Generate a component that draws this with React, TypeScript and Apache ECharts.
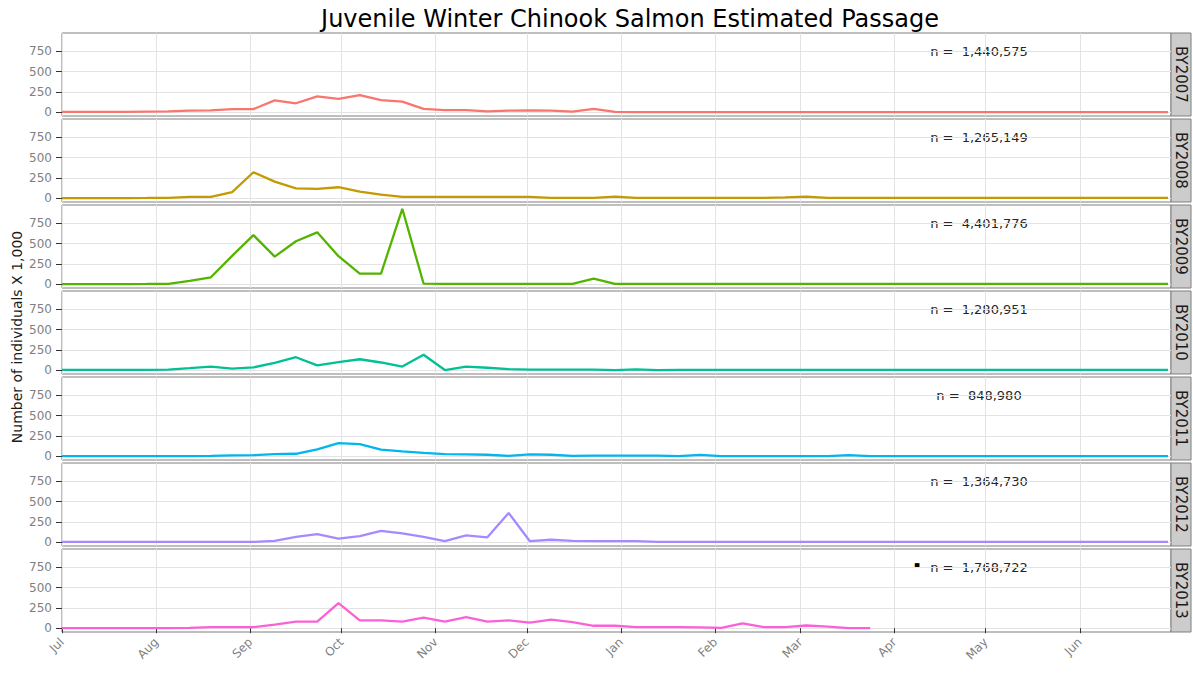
import React, { useEffect, useRef } from "react";
import * as echarts from "echarts";

// ---------- data ----------
const monthLabels = ["Jul", "Aug", "Sep", "Oct", "Nov", "Dec", "Jan", "Feb", "Mar", "Apr", "May", "Jun"];
const monthStartDays = [0, 31, 62, 92, 123, 153, 184, 215, 243, 274, 304, 335];
const yTicks = [0, 250, 500, 750];

// sampling dates: days since Jul 1 (weekly)
const weekDays = [
  0, 7, 14, 21, 28, 35, 42, 49, 56, 63, 70, 77, 84, 91, 98, 105, 112, 119, 126, 133,
  140, 147, 154, 161, 168, 175, 182, 189, 196, 203, 210, 217, 224, 231, 238, 245, 252,
  259, 266, 273, 280, 287, 294, 301, 308, 315, 322, 329, 336, 343, 350, 357, 364,
];

const broodYears = ["BY2007", "BY2008", "BY2009", "BY2010", "BY2011", "BY2012", "BY2013"];
const totals = ["1,440,575", "1,265,149", "4,401,776", "1,280,951", "848,980", "1,364,730", "1,768,722"];

// weekly passage, thousands of fish
const by2007 = [
  5, 5, 5, 5, 8, 10, 20, 22, 38, 38, 145, 110, 195, 165, 210, 150, 130, 40, 25, 25, 10, 20, 22, 20, 8, 40, 5,
  2, 2, 2, 2, 2, 2, 2, 2, 2, 2, 2, 2, 2, 2, 2, 2, 2, 2, 2, 2, 2, 2, 2, 2, 2, 2,
];
const by2008 = [
  2, 2, 2, 2, 3, 5, 15, 15, 75, 320, 205, 120, 115, 135, 80, 45, 15, 15, 15, 15, 15, 15, 15, 5, 5, 5, 20,
  5, 5, 5, 5, 5, 5, 5, 10, 20, 5, 3, 3, 3, 3, 3, 3, 3, 3, 3, 3, 3, 3, 3, 3, 3, 3,
];
const by2009 = [
  2, 2, 2, 2, 3, 5, 40, 85, 350, 605, 340, 530, 640, 345, 130, 130, 930, 8, 3, 3, 3, 3, 3, 3, 3, 70, 3,
  3, 3, 3, 3, 3, 3, 3, 3, 3, 3, 3, 3, 3, 3, 3, 3, 3, 3, 3, 3, 3, 3, 3, 3, 3, 3,
];
const by2010 = [
  3, 3, 3, 3, 3, 8, 25, 45, 20, 35, 90, 160, 60, 100, 135, 95, 45, 190, 2, 45, 30, 12, 8, 8, 8, 8, 2,
  10, 2, 3, 3, 3, 3, 3, 3, 3, 3, 3, 3, 3, 3, 3, 3, 3, 3, 3, 3, 3, 3, 3, 3, 3, 3,
];
const by2011 = [
  2, 2, 2, 2, 2, 2, 2, 3, 10, 12, 25, 30, 85, 160, 150, 80, 60, 42, 25, 22, 18, 5, 22, 18, 5, 8, 8,
  8, 8, 0, 15, 0, 2, 2, 2, 2, 2, 12, 0, 2, 2, 2, 2, 2, 2, 2, 2, 2, 2, 2, 2, 2, 2,
];
const by2012 = [
  3, 3, 3, 3, 3, 3, 3, 3, 3, 3, 17, 65, 100, 45, 75, 140, 110, 65, 12, 85, 60, 360, 12, 30, 15, 12, 12,
  12, 3, 3, 3, 3, 3, 3, 3, 3, 3, 3, 3, 3, 3, 3, 3, 3, 3, 3, 3, 3, 3, 3, 3, 3, 3,
];
const by2013 = [
  2, 2, 2, 2, 2, 2, 3, 12, 12, 12, 45, 80, 80, 310, 97, 97, 80, 130, 80, 135, 80, 97, 68, 105, 75, 30, 30,
  12, 12, 12, 10, 5, 60, 12, 12, 33, 20, 2, 2,
];

const seriesValues = [by2007, by2008, by2009, by2010, by2011, by2012, by2013];
const colors = ["#F8766D", "#C49A00", "#53B400", "#00C094", "#00B6EB", "#A58AFF", "#FB61D7"];

// ---------- layout ----------
const W = 1193;
const H = 674;
const TOP0 = 33;
const STEP = 86;
const PH = 83;
const LEFT = 62;
const RIGHT = 22;
const STRIP_W = 20;
const FONT = "DejaVu Sans";

export default function App() {
  const ref = useRef<HTMLDivElement>(null);

  useEffect(() => {
    if (!ref.current) return;
    const chart = echarts.init(ref.current, null, { renderer: "svg" });
    const n = broodYears.length;

    const grids = broodYears.map((_, i) => ({
      left: LEFT,
      right: RIGHT,
      top: TOP0 + i * STEP,
      height: PH,
      show: true,
      borderColor: "#7f7f7f",
      borderWidth: 1,
      backgroundColor: "#ffffff",
      containLabel: false,
      outerBoundsMode: "none",
    }));

    const xAxes = broodYears.map((_, i) => ({
      type: "value",
      gridIndex: i,
      min: 0,
      max: 365,
      axisLine: { show: false },
      axisTick: {
        show: i === n - 1,
        customValues: monthStartDays,
        length: 5,
        lineStyle: { color: "#333333", width: 1 },
      },
      axisLabel: {
        show: i === n - 1,
        customValues: monthStartDays,
        formatter: (v: number) => {
          const k = monthStartDays.indexOf(Math.round(v));
          return k >= 0 ? monthLabels[k] : "";
        },
        rotate: 45,
        color: "#7f7f7f",
        fontSize: 12,
        fontFamily: FONT,
        margin: 8,
      },
      splitLine: { show: true, lineStyle: { color: "#e3e3e3", width: 1 } },
    }));

    const yAxes = broodYears.map((_, i) => ({
      type: "value",
      gridIndex: i,
      min: -47,
      max: 977,
      axisLine: { show: false },
      axisTick: {
        show: true,
        customValues: yTicks,
        length: 6,
        lineStyle: { color: "#333333", width: 1 },
      },
      axisLabel: {
        show: true,
        customValues: yTicks,
        color: "#7f7f7f",
        fontSize: 12,
        fontFamily: FONT,
        margin: 10,
      },
      splitLine: { show: true, lineStyle: { color: "#e3e3e3", width: 1 } },
    }));

    const series = seriesValues.map((vals, i) => ({
      type: "line",
      name: broodYears[i],
      xAxisIndex: i,
      yAxisIndex: i,
      data: vals.map((v, k) => [weekDays[k], v]),
      showSymbol: false,
      symbol: "none",
      lineStyle: { color: colors[i], width: 2.3 },
      itemStyle: { color: colors[i] },
      z: 3,
      silent: true,
    }));

    const graphics: any[] = [
      {
        type: "text",
        x: 630,
        y: 19,
        style: {
          text: "Juvenile Winter Chinook Salmon Estimated Passage",
          font: `24px "${FONT}"`,
          fill: "#000000",
          textAlign: "center",
          textVerticalAlign: "middle",
          align: "center",
          verticalAlign: "middle",
        },
      },
      {
        type: "text",
        x: 17,
        y: 337,
        rotation: Math.PI / 2,
        style: {
          text: "Number of individuals X 1,000",
          font: `14px "${FONT}"`,
          fill: "#1a1a1a",
          textAlign: "center",
          textVerticalAlign: "middle",
          align: "center",
          verticalAlign: "middle",
        },
      },
    ];

    broodYears.forEach((by, i) => {
      const top = TOP0 + i * STEP;
      graphics.push({
        type: "rect",
        shape: { x: W - RIGHT, y: top, width: STRIP_W, height: PH },
        style: { fill: "#cccccc", stroke: "#7f7f7f", lineWidth: 1 },
      });
      graphics.push({
        type: "text",
        x: W - RIGHT + STRIP_W / 2,
        y: top + PH / 2,
        rotation: -Math.PI / 2,
        style: {
          text: by,
          font: `15px "${FONT}"`,
          fill: "#1a1a1a",
          textAlign: "center",
          textVerticalAlign: "middle",
          align: "center",
          verticalAlign: "middle",
        },
      });
      graphics.push({
        type: "text",
        x: 979,
        y: top + 18,
        style: {
          text: "n =  " + totals[i],
          font: `13px "${FONT}"`,
          fill: "#262626",
          textAlign: "center",
          textVerticalAlign: "middle",
          align: "center",
          verticalAlign: "middle",
        },
      });
    });

    // small stray marker before the last annotation
    graphics.push({
      type: "text",
      x: 917,
      y: TOP0 + (n - 1) * STEP + 15,
      style: {
        text: "■",
        font: `6px "${FONT}"`,
        fill: "#000000",
        textAlign: "center",
        textVerticalAlign: "middle",
        align: "center",
        verticalAlign: "middle",
      },
    });

    chart.setOption({
      animation: false,
      backgroundColor: "#ffffff",
      textStyle: { fontFamily: FONT },
      grid: grids,
      xAxis: xAxes,
      yAxis: yAxes,
      series,
      graphic: { elements: graphics },
    });

    return () => chart.dispose();
  }, []);

  return (
    <div
      ref={ref}
      style={{ position: "fixed", left: 0, top: 0, width: W, height: H, background: "#ffffff" }}
    />
  );
}
